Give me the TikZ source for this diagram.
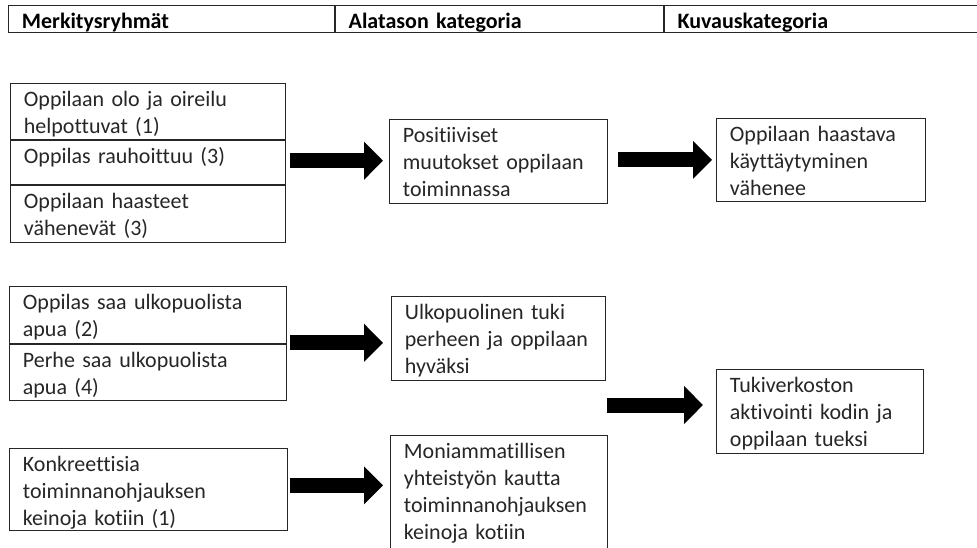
\documentclass[tikz,border=0pt]{standalone}
\usepackage{fontspec}
\setmainfont{Carlito}[Ligatures=NoCommon]
\usetikzlibrary{positioning, arrows.meta}

\tikzset{
  cell/.style 2 args={draw=black!85, line width=0.8pt, anchor=north west,
    inner xsep=13.5pt, inner ysep=0pt, align=left, text=black!85,
    text width={#1-27pt}, text height=23.5pt, text depth={#2-23.5pt},
    font=\fontsize{22}{26.8}\selectfont},
  hdr/.style={font=\fontsize{22}{26.8}\selectfont\bfseries, text=black},
  bigarrow/.style={line width=15pt, -{Triangle[width=37pt,length=19pt]}}
}

\begin{document}
\begin{tikzpicture}[x=1pt, y=-1pt]
  \clip (0,0) rectangle (977,547);

  % otsikkorivi
  \node[cell={326}{27}, hdr] (h1) at (8,5) {Merkitysryhmät};
  \node[cell={328}{27}, hdr, right=0pt of h1] (h2) {Alatason kategoria};
  \node[cell={330}{27}, hdr, right=0pt of h2] (h3) {Kuvauskategoria};

  % ylin ryhma
  \node[cell={275}{56}] (g1a) at (10,83) {Oppilaan olo ja oireilu\\helpottuvat (1)};
  \node[cell={275}{44}, below=0pt of g1a] (g1b) {Oppilas rauhoittuu (3)};
  \node[cell={275}{57}, below=0pt of g1b] (g1c) {Oppilaan haasteet\\vähenevät (3)};
  \node[cell={218}{84}] (pos) at (389,119) {Positiiviset\\muutokset oppilaan\\toiminnassa};
  \node[cell={209}{83}] (haast) at (716,118) {Oppilaan haastava\\käyttäytyminen\\vähenee};

  % tuki
  \node[cell={277}{57}] (g2a) at (9,286) {Oppilas saa ulkopuolista\\apua (2)};
  \node[cell={277}{56}, below=0pt of g2a] (g2b) {Perhe saa ulkopuolista\\apua (4)};
  \node[cell={214}{84}] (ulko) at (391,296) {Ulkopuolinen tuki\\perheen ja oppilaan\\hyväksi};
  \node[cell={278}{82}] (konk) at (9,448) {Konkreettisia\\toiminnanohjauksen\\keinoja kotiin (1)};
  \node[cell={217}{118}] (moni) at (390,435) {Moniammatillisen\\yhteistyön kautta\\toiminnanohjauksen\\keinoja kotiin};
  \node[cell={207}{84}] (tuki) at (716,369) {Tukiverkoston\\aktivointi kodin ja\\oppilaan tueksi};
  \coordinate (split) at (607,405);

  % nuolet
  \draw[bigarrow, shorten <=4pt, shorten >=6pt] ([yshift=1.5pt]g1b.east) -- ([yshift=1.5pt]g1b.east -| pos.west);
  \draw[bigarrow, shorten <=10pt, shorten >=4pt] ([yshift=1.5pt]pos.east) -- ([yshift=1.5pt]pos.east -| haast.west);
  \draw[bigarrow, shorten <=3pt, shorten >=8pt] ([yshift=1pt]g2a.south east) -- ([yshift=1pt]g2a.south east -| ulko.west);
  \draw[bigarrow, shorten <=2pt, shorten >=7pt] ([yshift=4pt]konk.east) -- ([yshift=4pt]konk.east -| moni.west);
  \draw[bigarrow, shorten >=13pt] (split) -- (split -| tuki.west);
\end{tikzpicture}
\end{document}
